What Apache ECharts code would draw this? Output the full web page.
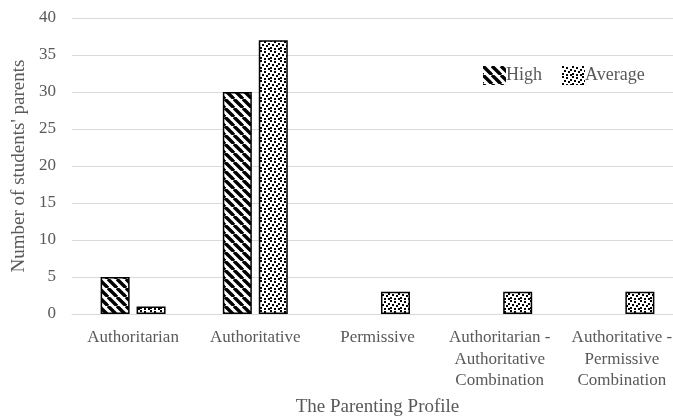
<!DOCTYPE html>
<html><head><meta charset="utf-8">
<script src="https://cdn.jsdelivr.net/npm/echarts@6/dist/echarts.min.js"></script>
<style>html,body{margin:0;padding:0;background:#fff;overflow:hidden}#c{width:673px;height:418px}</style>
</head><body><div id="c"></div>
<script>
const categories = ['Authoritarian', 'Authoritative', 'Permissive', 'Authoritarian -\nAuthoritative\nCombination', 'Authoritative -\nPermissive\nCombination'];
const highValues = [5, 30, 0, 0, 0];
const averageValues = [1, 37, 3, 3, 3];
const yTicks = {min: 0, max: 40, interval: 5};

function hatch() {
  const s = 9, c = document.createElement('canvas');
  c.width = s; c.height = s;
  const g = c.getContext('2d');
  g.fillStyle = '#fff'; g.fillRect(0, 0, s, s);
  g.strokeStyle = '#000'; g.lineWidth = 3.4;
  for (const o of [-s, 0, s]) {
    g.beginPath(); g.moveTo(o, 0); g.lineTo(o + s, s); g.stroke();
  }
  return c;
}
function dots() {
  const s = 10, c = document.createElement('canvas');
  c.width = s; c.height = s;
  const g = c.getContext('2d');
  g.fillStyle = '#fff'; g.fillRect(0, 0, s, s);
  g.fillStyle = '#000';
  const pts = [[0,0],[4,1],[8,3],[2,4],[6,5],[0,7],[4,8],[8,8]];
  for (const p of pts) g.fillRect(p[0], p[1], 2, 2);
  return c;
}
const noZero = arr => arr.map(v => v === 0 ? '-' : v);
const font = 'Liberation Serif';
const grey = '#595959';
const chart = echarts.init(document.getElementById('c'));
chart.setOption({
  animation: false,
  textStyle: {fontFamily: font},
  grid: {left: 72, right: -10, top: 18, bottom: 104, containLabel: false, outerBoundsMode: 'none'},
  legend: {
    left: 478, top: 61, itemWidth: 23, itemHeight: 19, itemGap: 20, icon: 'rect',
    itemStyle: {borderWidth: 0},
    textStyle: {fontFamily: font, fontSize: 18, color: grey, padding: [0, 0, 0, -5]},
    data: ['High', 'Average']
  },
  xAxis: {
    type: 'category', data: categories,
    name: 'The Parenting Profile', nameLocation: 'middle', nameGap: 84,
    nameTextStyle: {fontFamily: font, fontSize: 19, color: grey},
    axisTick: {show: false},
    axisLine: {lineStyle: {color: '#d9d9d9'}},
    axisLabel: {fontFamily: font, fontSize: 17, color: grey, lineHeight: 21.5, margin: 13, interval: 0}
  },
  yAxis: {
    type: 'value', min: yTicks.min, max: yTicks.max, interval: yTicks.interval,
    name: "Number of students' parents", nameLocation: 'middle', nameGap: 42,
    nameTextStyle: {fontFamily: font, fontSize: 19, color: grey},
    axisLabel: {fontFamily: font, fontSize: 17, color: grey, margin: 16},
    splitLine: {lineStyle: {color: '#d9d9d9'}}
  },
  series: [
    {name: 'High', type: 'bar', data: noZero(highValues), barWidth: 29, barGap: '24%',
     itemStyle: {color: {image: hatch(), repeat: 'repeat'}, borderColor: '#000', borderWidth: 1.5}},
    {name: 'Average', type: 'bar', data: noZero(averageValues), barWidth: 29,
     itemStyle: {color: {image: dots(), repeat: 'repeat'}, borderColor: '#000', borderWidth: 1.5}}
  ]
});
</script></body></html>
